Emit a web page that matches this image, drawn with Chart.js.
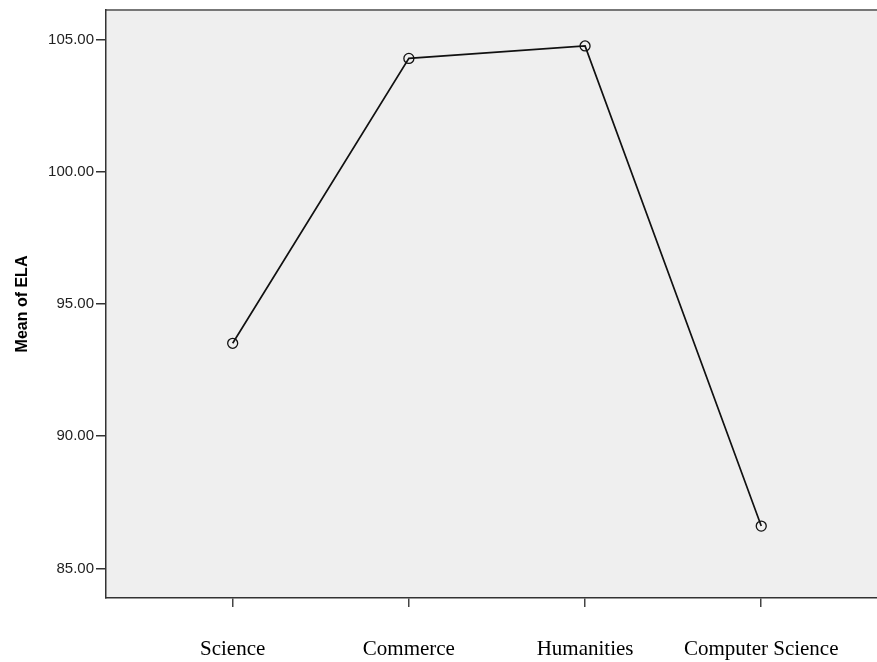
<!DOCTYPE html>
<html>
<head>
<meta charset="utf-8">
<script src="https://cdn.jsdelivr.net/npm/chart.js@4/dist/chart.umd.min.js"></script>
<style>
html,body{margin:0;padding:0;background:#fff;}
#wrap{width:877px;height:662px;position:relative;}
</style>
</head>
<body>
<div id="wrap"><canvas id="c" width="877" height="662"></canvas></div>
<script>
const categories = ["Science", "Commerce", "Humanities", "Computer Science"];
const meanELA = [93.51, 104.28, 104.75, 86.60];
const yTicks = [85, 90, 95, 100, 105];

const bgPlugin = {
  id: 'bg',
  beforeDraw(chart) {
    const {ctx, chartArea: a} = chart;
    ctx.save();
    ctx.fillStyle = '#efefef';
    ctx.fillRect(a.left, a.top, a.right - a.left, a.bottom - a.top);
    ctx.strokeStyle = '#777';
    ctx.lineWidth = 2;
    ctx.beginPath();
    ctx.moveTo(a.left, a.top);
    ctx.lineTo(a.right, a.top);
    ctx.stroke();
    ctx.restore();
  }
};

new Chart(document.getElementById('c'), {
  type: 'line',
  data: {
    datasets: [{
      data: meanELA.map((v, i) => ({x: i, y: v})),
      borderColor: '#111',
      borderWidth: 1.7,
      pointRadius: 5,
      pointBorderWidth: 1.3,
      pointBorderColor: '#111',
      pointBackgroundColor: 'rgba(0,0,0,0)',
      tension: 0,
      fill: false
    }]
  },
  options: {
    responsive: false,
    animation: false,
    layout: {autoPadding: false, padding: {top: 10, right: 0, left: 0, bottom: 0}},
    plugins: {legend: {display: false}, tooltip: {enabled: false}},
    scales: {
      x: {
        type: 'linear',
        min: -0.719,
        max: 3.657,
        afterBuildTicks: s => { s.ticks = categories.map((c, i) => ({value: i})); },
        afterFit: s => { s.height = 64; s.paddingLeft = 0; s.paddingRight = 0; },
        grid: {drawOnChartArea: false, drawTicks: true, tickLength: 9, color: '#444', lineWidth: 1.5},
        border: {display: true, color: '#333', width: 1.5},
        ticks: {
          callback: v => categories[v],
          font: {family: 'Liberation Serif', size: 21},
          color: '#000',
          padding: 30,
          maxRotation: 0,
          autoSkip: false
        }
      },
      y: {
        min: 83.88,
        max: 106.11,
        afterBuildTicks: s => { s.ticks = yTicks.map(v => ({value: v})); },
        afterFit: s => { s.width = 106; s.paddingTop = 0; s.paddingBottom = 0; },
        grid: {drawOnChartArea: false, drawTicks: true, tickLength: 10, color: '#333', lineWidth: 1.5},
        border: {display: true, color: '#333', width: 1.5},
        ticks: {
          callback: v => Number(v).toFixed(2),
          font: {family: 'Liberation Sans', size: 15},
          color: '#222',
          padding: 2
        },
        title: {
          display: true,
          text: 'Mean of ELA',
          font: {family: 'Liberation Sans', size: 16, weight: 'bold'},
          color: '#000',
          padding: {top: 13, bottom: 10}
        }
      }
    }
  },
  plugins: [bgPlugin]
});
</script>
</body>
</html>
